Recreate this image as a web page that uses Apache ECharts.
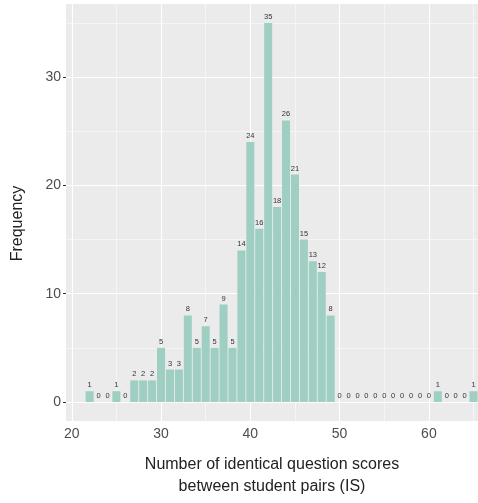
<!DOCTYPE html>
<html><head><meta charset="utf-8">
<script src="https://cdn.jsdelivr.net/npm/echarts@6/dist/echarts.min.js"></script>
<style>html,body{margin:0;padding:0;background:#fff}#c{width:478px;height:503px}</style>
</head><body><div id="c"></div>
<script>
const scores = [22,23,24,25,26,27,28,29,30,31,32,33,34,35,36,37,38,39,40,41,42,43,44,45,46,47,48,49,50,51,52,53,54,55,56,57,58,59,60,61,62,63,64,65];
const freqs  = [1,0,0,1,0,2,2,2,5,3,3,8,5,7,5,9,5,14,24,16,35,18,26,21,15,13,12,8,0,0,0,0,0,0,0,0,0,0,0,1,0,0,0,1];
const xTicks = [20,30,40,50,60];
const xMinor = [25,35,45,55,65];
const yTicks = [0,10,20,30];
const yMinor = [5,15,25,35];

const font = '"Liberation Sans", Arial, Helvetica, sans-serif';
const chart = echarts.init(document.getElementById('c'), null, {renderer:'canvas'});
const gridData = [];
xMinor.forEach(v=>gridData.push({xAxis:v, lineStyle:{width:0.5}}));
yMinor.forEach(v=>gridData.push({yAxis:v, lineStyle:{width:0.5}}));
xTicks.forEach(v=>gridData.push({xAxis:v, lineStyle:{width:1.1}}));
yTicks.forEach(v=>gridData.push({yAxis:v, lineStyle:{width:1.1}}));

chart.setOption({
  animation:false,
  grid:{left:66,right:0,top:4,bottom:79,show:true,backgroundColor:'#ebebeb',borderWidth:0},
  xAxis:{type:'value',min:19.355,max:65.5,
    axisLine:{show:false},
    splitLine:{show:false},
    axisTick:{show:true,customValues:xTicks,length:3,lineStyle:{color:'#333',width:1}},
    axisLabel:{customValues:xTicks,color:'#4d4d4d',fontSize:14,fontFamily:font,margin:6},
    name:'Number of identical question scores\nbetween student pairs (IS)',
    nameLocation:'middle',nameGap:33,
    nameTextStyle:{color:'#222',fontSize:16,fontFamily:font,lineHeight:22}
  },
  yAxis:{type:'value',min:-1.75,max:36.75,
    axisLine:{show:false},
    splitLine:{show:false},
    axisTick:{show:true,customValues:yTicks,length:3,lineStyle:{color:'#333',width:1}},
    axisLabel:{customValues:yTicks,color:'#4d4d4d',fontSize:14,fontFamily:font,margin:5},
    name:'Frequency',nameLocation:'middle',nameGap:40,
    nameTextStyle:{color:'#222',fontSize:16,fontFamily:font,padding:[0,0,0,-22]}
  },
  series:[
    {type:'line',data:[],z:1,silent:true,
      markLine:{silent:true,z:1,symbol:'none',animation:false,label:{show:false},
        lineStyle:{color:'#ffffff',type:'solid',width:1},data:gridData}},
    {type:'custom',z:10,data:scores.map((s,i)=>[s,freqs[i]]),
      renderItem:function(params,api){
        const x=api.value(0), y=api.value(1);
        const p1=api.coord([x-0.45,y]);
        const p2=api.coord([x+0.45,0]);
        const children=[];
        if(y>0){
          children.push({type:'rect',shape:{x:p1[0],y:p1[1],width:p2[0]-p1[0],height:p2[1]-p1[1]},
            style:{fill:'#9fcfc3'}});
        }
        children.push({type:'text',style:{text:String(y),x:(p1[0]+p2[0])/2,y:p1[1]-2,
          align:'center',verticalAlign:'bottom',fontSize:7.5,fontFamily:font,fill:'#333'}});
        return {type:'group',children:children};
      }
    }
  ]
});
</script></body></html>
